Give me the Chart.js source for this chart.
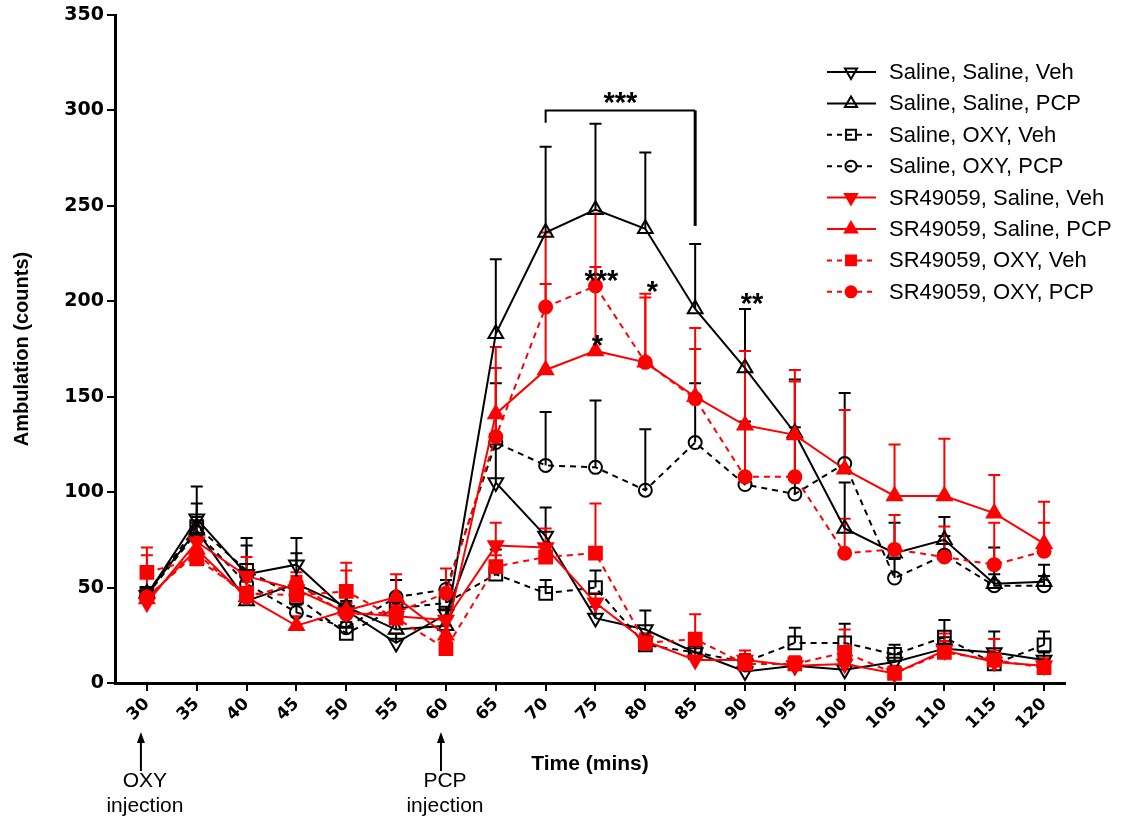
<!DOCTYPE html>
<html>
<head>
<meta charset="utf-8">
<script src="https://cdn.jsdelivr.net/npm/chart.js@4.4.1/dist/chart.umd.min.js"></script>
<style>
  html, body { margin: 0; padding: 0; background: #fff; }
  #wrap { width: 1129px; height: 821px; }
</style>
</head>
<body>
<div id="wrap"><canvas id="chart" width="1129" height="821"></canvas></div>
<script>
// Ambulation over time, 8 treatment groups (mean + SEM)
const times = [30, 35, 40, 45, 50, 55, 60, 65, 70, 75, 80, 85, 90, 95, 100, 105, 110, 115, 120];

const salSalVeh    = [46, 86, 57, 62, 38, 21, 36, 105, 77, 34, 28, 16, 6, 9, 7, 11, 18, 16, 12];
const salSalVehErr = [4, 17, 19, 14, 4, 5, 4, 20, 15, 6, 10, 5, 3, 3, 3, 4, 6, 11, 4];
const salSalPcp    = [47, 80, 43, 52, 40, 28, 30, 183, 236, 248, 238, 196, 165, 131, 81, 68, 75, 52, 53];
const salSalPcpErr = [3, 14, 5, 16, 3, 4, 4, 39, 45, 45, 40, 34, 31, 28, 24, 16, 12, 19, 9];
const salOxyVeh    = [47, 82, 59, 45, 26, 39, 42, 57, 47, 50, 20, 16, 11, 21, 21, 15, 24, 10, 20];
const salOxyVehErr = [3, 5, 13, 4, 3, 5, 6, 13, 7, 9, 5, 4, 4, 8, 10, 5, 9, 4, 7];
const salOxyPcp    = [46, 79, 52, 37, 29, 45, 49, 126, 114, 113, 101, 126, 104, 99, 115, 55, 67, 51, 51];
const salOxyPcpErr = [3, 5, 4, 4, 3, 9, 5, 31, 28, 35, 32, 31, 33, 35, 37, 10, 10, 6, 5];
const srSalVeh     = [42, 74, 56, 49, 37, 35, 33, 72, 71, 42, 22, 12, 12, 9, 10, 5, 17, 11, 9];
const srSalVehErr  = [6, 8, 10, 9, 22, 5, 5, 12, 10, 5, 4, 4, 5, 4, 4, 3, 5, 6, 4];
const srSalPcp     = [44, 70, 45, 30, 38, 45, 25, 141, 164, 174, 168, 150, 135, 130, 112, 98, 98, 89, 73];
const srSalPcpErr  = [5, 7, 5, 5, 4, 12, 5, 35, 72, 72, 36, 36, 39, 34, 31, 27, 30, 20, 22];
const srOxyVeh     = [58, 65, 47, 46, 48, 34, 18, 61, 66, 68, 21, 23, 10, 10, 16, 5, 16, 12, 8];
const srOxyVehErr  = [13, 12, 6, 9, 15, 6, 4, 6, 4, 26, 5, 13, 5, 4, 12, 4, 10, 11, 4];
const srOxyPcp     = [45, 68, 45, 52, 36, 37, 47, 129, 197, 208, 168, 149, 108, 108, 68, 70, 66, 62, 69];
const srOxyPcpErr  = [22, 6, 5, 4, 5, 4, 13, 36, 12, 10, 34, 26, 27, 50, 18, 18, 16, 22, 15];

const yTicks = [0, 50, 100, 150, 200, 250, 300, 350];

// significance marks (x in mins, y in counts)
const starLabels = [
    { text: '***', x: 77.5, y: 308 },
    { text: '***', x: 75.6, y: 215 },
    { text: '*', x: 75.2, y: 181 },
    { text: '*', x: 80.7, y: 209 },
    { text: '**', x: 90.7, y: 203 }
];
const injections = [
    { x: 29.4, name: 'OXY' },
    { x: 59.5, name: 'PCP' }
];

const SANS = '"Liberation Sans", Arial, sans-serif';
const HEAVY = '"DejaVu Sans", sans-serif';
const RED = '#ff0000';
const BLACK = '#000000';
const NONE = 'rgba(0,0,0,0)';

function makeSet(label, values, errors, color, style, filled, dashed, rotation) {
    return {
        label: label,
        data: values.map((v, i) => ({ x: times[i], y: v })),
        errors: errors,
        borderColor: color,
        backgroundColor: color,
        borderWidth: 2,
        borderDash: dashed ? [6, 5] : [],
        pointStyle: style,
        pointRotation: rotation || 0,
        pointRadius: style === 'rect' ? 9 : (style === 'circle' ? 6.5 : 8.5),
        pointBorderWidth: 2,
        pointBorderColor: color,
        pointBackgroundColor: filled ? color : NONE,
        tension: 0,
        fill: false,
        order: filled ? 0 : 1
    };
}

const datasets = [
    makeSet('Saline, Saline, Veh', salSalVeh, salSalVehErr, BLACK, 'triangle', false, false, 180),
    makeSet('Saline, Saline, PCP', salSalPcp, salSalPcpErr, BLACK, 'triangle', false, false, 0),
    makeSet('Saline, OXY, Veh', salOxyVeh, salOxyVehErr, BLACK, 'rect', false, true),
    makeSet('Saline, OXY, PCP', salOxyPcp, salOxyPcpErr, BLACK, 'circle', false, true),
    makeSet('SR49059, Saline, Veh', srSalVeh, srSalVehErr, RED, 'triangle', true, false, 180),
    makeSet('SR49059, Saline, PCP', srSalPcp, srSalPcpErr, RED, 'triangle', true, false, 0),
    makeSet('SR49059, OXY, Veh', srOxyVeh, srOxyVehErr, RED, 'rect', true, true),
    makeSet('SR49059, OXY, PCP', srOxyPcp, srOxyPcpErr, RED, 'circle', true, true)
];

// upper SEM bars under the markers
const errorBars = {
    id: 'errorBars',
    beforeDatasetsDraw(chart) {
        const ctx = chart.ctx;
        const yScale = chart.scales.y;
        chart.data.datasets.forEach((ds, i) => {
            const meta = chart.getDatasetMeta(i);
            ctx.save();
            ctx.strokeStyle = ds.borderColor;
            ctx.lineWidth = 2;
            meta.data.forEach((pt, j) => {
                const top = yScale.getPixelForValue(ds.data[j].y + ds.errors[j]);
                ctx.beginPath();
                ctx.moveTo(pt.x, pt.y);
                ctx.lineTo(pt.x, top);
                ctx.moveTo(pt.x - 6, top);
                ctx.lineTo(pt.x + 6, top);
                ctx.stroke();
            });
            ctx.restore();
        });
    }
};

const annotations = {
    id: 'annotations',
    afterDraw(chart) {
        const ctx = chart.ctx;
        const xs = chart.scales.x;
        const ys = chart.scales.y;
        const bottom = chart.chartArea.bottom;

        ctx.save();
        // bracket 70 -> 85
        ctx.strokeStyle = BLACK;
        ctx.lineWidth = 2;
        ctx.beginPath();
        ctx.moveTo(xs.getPixelForValue(70), ys.getPixelForValue(293.5));
        ctx.lineTo(xs.getPixelForValue(70), ys.getPixelForValue(300));
        ctx.lineTo(xs.getPixelForValue(85), ys.getPixelForValue(300));
        ctx.stroke();
        ctx.lineWidth = 3;
        ctx.beginPath();
        ctx.moveTo(xs.getPixelForValue(85), ys.getPixelForValue(300));
        ctx.lineTo(xs.getPixelForValue(85), ys.getPixelForValue(239.5));
        ctx.stroke();

        // asterisks
        ctx.fillStyle = BLACK;
        ctx.font = 'bold 29px ' + SANS;
        ctx.textAlign = 'center';
        ctx.textBaseline = 'alphabetic';
        starLabels.forEach(s => {
            ctx.fillText(s.text, xs.getPixelForValue(s.x), ys.getPixelForValue(s.y) + 17);
        });

        // injection arrows
        ctx.lineWidth = 2;
        injections.forEach(inj => {
            const x = xs.getPixelForValue(inj.x);
            ctx.beginPath();
            ctx.moveTo(x, bottom + 88);
            ctx.lineTo(x, bottom + 58);
            ctx.stroke();
            ctx.beginPath();
            ctx.moveTo(x, bottom + 49);
            ctx.lineTo(x - 4, bottom + 60);
            ctx.lineTo(x + 4, bottom + 60);
            ctx.closePath();
            ctx.fill();
            ctx.font = '21px ' + SANS;
            ctx.textBaseline = 'middle';
            ctx.fillText(inj.name, x + 4, bottom + 98);
            ctx.fillText('injection', x + 4, bottom + 123);
        });

        // legend
        const lx = 827, ly = 72, rowH = 31.4;
        chart.data.datasets.forEach((ds, i) => {
            const y = ly + i * rowH;
            ctx.strokeStyle = ds.borderColor;
            ctx.fillStyle = ds.pointBackgroundColor;
            ctx.lineWidth = 2;
            ctx.setLineDash(ds.borderDash.length ? [5, 5] : []);
            ctx.beginPath();
            ctx.moveTo(lx, y);
            ctx.lineTo(lx + 49, y);
            ctx.stroke();
            ctx.setLineDash([]);
            Chart.helpers.drawPoint(ctx, {
                pointStyle: ds.pointStyle,
                rotation: ds.pointRotation,
                radius: ds.pointStyle === 'rect' ? 7 : (ds.pointStyle === 'circle' ? 5.5 : 7),
                borderWidth: 2
            }, lx + 24, y);
            ctx.fillStyle = BLACK;
            ctx.font = '22px ' + SANS;
            ctx.textAlign = 'left';
            ctx.textBaseline = 'middle';
            ctx.fillText(ds.label, lx + 62, y + 1);
        });
        ctx.restore();
    }
};

new Chart(document.getElementById('chart'), {
    type: 'line',
    data: { datasets: datasets },
    options: {
        responsive: false,
        animation: false,
        devicePixelRatio: 1,
        layout: { padding: { top: 15, right: 64, left: 0, bottom: 0 } },
        plugins: {
            legend: { display: false },
            tooltip: { enabled: false }
        },
        scales: {
            x: {
                type: 'linear',
                min: 26.8,
                max: 122.1,
                afterBuildTicks: scale => {
                    scale.ticks = times.map(v => ({ value: v }));
                },
                afterFit: scale => { scale.height = 138; },
                ticks: {
                    autoSkip: false,
                    minRotation: 45,
                    maxRotation: 45,
                    padding: 3,
                    color: BLACK,
                    font: { family: HEAVY, size: 17, weight: 'bold' },
                    callback: v => String(v)
                },
                grid: { display: true, drawOnChartArea: false, drawTicks: true, tickLength: 8, color: BLACK, lineWidth: 2 },
                border: { display: true, color: BLACK, width: 3 },
                title: {
                    display: true,
                    text: 'Time (mins)',
                    color: BLACK,
                    font: { family: SANS, size: 21, weight: 'bold' },
                    padding: { top: 0, bottom: 44 }
                }
            },
            y: {
                min: 0,
                max: 350,
                afterBuildTicks: scale => {
                    scale.ticks = yTicks.map(v => ({ value: v }));
                },
                afterFit: scale => { scale.width = 115; },
                ticks: {
                    padding: 3,
                    color: BLACK,
                    font: { family: HEAVY, size: 19, weight: 'bold' }
                },
                grid: { display: true, drawOnChartArea: false, drawTicks: true, tickLength: 8, color: BLACK, lineWidth: 2 },
                border: { display: true, color: BLACK, width: 3 },
                title: {
                    display: true,
                    text: 'Ambulation (counts)',
                    color: BLACK,
                    font: { family: SANS, size: 20, weight: 'bold' },
                    padding: { top: 10, bottom: 0 }
                }
            }
        }
    },
    plugins: [errorBars, annotations]
});
</script>
</body>
</html>
